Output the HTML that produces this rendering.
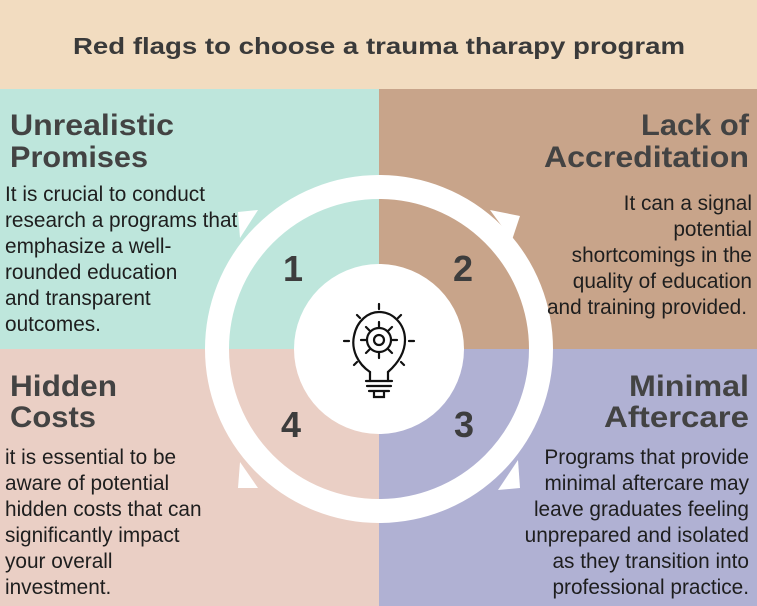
<!DOCTYPE html>
<html><head><meta charset="utf-8"><style>
html,body{margin:0;padding:0;width:757px;height:606px;overflow:hidden;background:#fff}
svg{display:block}
.t{font-family:"Liberation Sans",sans-serif;font-weight:bold;font-size:30px;fill:#434343}
.b{font-family:"Liberation Sans",sans-serif;font-size:20.8px;fill:#1e1e1e}
.n{font-family:"Liberation Sans",sans-serif;font-weight:bold;font-size:36px;fill:#3d3d3d}
</style></head><body>
<svg width="757" height="606" viewBox="0 0 757 606">
<rect x="0" y="0" width="757" height="89" fill="#f2dcc0"/>
<rect x="0" y="89" width="379" height="260" fill="#bee6dc"/>
<rect x="379" y="89" width="378" height="260" fill="#c8a48a"/>
<rect x="0" y="349" width="379" height="257" fill="#eacfc5"/>
<rect x="379" y="349" width="378" height="257" fill="#b0b1d3"/>
<text x="379" y="54" text-anchor="middle" font-family="Liberation Sans,sans-serif" font-weight="bold" font-size="23" fill="#3a3a3a" textLength="612" lengthAdjust="spacingAndGlyphs">Red flags to choose a trauma tharapy program</text>

<!-- ring -->
<circle cx="379" cy="349" r="162" fill="none" stroke="#fff" stroke-width="24"/>
<g fill="#fff">
<polygon points="240,238 258,210 238,212"/>
<polygon points="490,210 520,216 512,240"/>
<polygon points="518,460 520,488 498,490"/>
<polygon points="258,488 238,488 240,462"/>
</g>
<circle cx="379" cy="349" r="85" fill="#fff"/>

<!-- bulb icon -->
<g fill="none" stroke="#111" stroke-width="2.2" stroke-linecap="round">
<path d="M370,372 C358,364 351,350 354,336 C357,320 369,312 379,312 C393,312 405,324 405,340 C405,353 397,364 388,372"/>
<path d="M370,372 L370,381 M388,372 L388,381"/>
<path d="M366,381 L392,381 M367,386 L391,386 M369,391 L389,391"/>
<path d="M374,392 L374,397 L384,397 L384,392"/>
<circle cx="379" cy="340" r="5"/>
<path d="M379,322 L379,327 M379,353 L379,358 M361,340 L366,340 M392,340 L397,340 M366,327 L370,331 M392,327 L388,331 M366,353 L370,349 M392,353 L388,349"/>
<circle cx="379" cy="340" r="12"/>
<path d="M379,304 L379,309 M357,315 L360,318 M401,315 L398,318 M344,341 L349,341 M409,341 L414,341 M354,365 L357,362 M404,365 L401,362"/>
</g>

<text class="n" x="293" y="281" text-anchor="middle">1</text>
<text class="n" x="463" y="281" text-anchor="middle">2</text>
<text class="n" x="464" y="437" text-anchor="middle">3</text>
<text class="n" x="291" y="437" text-anchor="middle">4</text>

<text class="t" x="10" y="135" textLength="164" lengthAdjust="spacingAndGlyphs">Unrealistic</text>
<text class="t" x="10" y="167" textLength="138" lengthAdjust="spacingAndGlyphs">Promises</text>
<g class="b">
<text x="5" y="201">It is crucial to conduct</text>
<text x="5" y="227">research a programs that</text>
<text x="5" y="253">emphasize a well-</text>
<text x="5" y="279">rounded education</text>
<text x="5" y="305">and transparent</text>
<text x="5" y="331">outcomes.</text>
</g>

<g text-anchor="end">
<text class="t" x="749" y="135" textLength="108" lengthAdjust="spacingAndGlyphs">Lack of</text>
<text class="t" x="749" y="167" textLength="205" lengthAdjust="spacingAndGlyphs">Accreditation</text>
<g class="b">
<text x="752" y="210">It can a signal</text>
<text x="752" y="236">potential</text>
<text x="752" y="262">shortcomings in the</text>
<text x="752" y="288">quality of education</text>
<text x="747" y="314">and training provided.</text>
</g>
<text class="t" x="749" y="396" textLength="120" lengthAdjust="spacingAndGlyphs">Minimal</text>
<text class="t" x="749" y="427" textLength="145" lengthAdjust="spacingAndGlyphs">Aftercare</text>
<g class="b">
<text x="749" y="464">Programs that provide</text>
<text x="749" y="490">minimal aftercare may</text>
<text x="749" y="516">leave graduates feeling</text>
<text x="749" y="542">unprepared and isolated</text>
<text x="749" y="568">as they transition into</text>
<text x="749" y="594">professional practice.</text>
</g>
</g>

<text class="t" x="10" y="396" textLength="107" lengthAdjust="spacingAndGlyphs">Hidden</text>
<text class="t" x="10" y="427" textLength="86" lengthAdjust="spacingAndGlyphs">Costs</text>
<g class="b">
<text x="5" y="464">it is essential to be</text>
<text x="5" y="490">aware of potential</text>
<text x="5" y="516">hidden costs that can</text>
<text x="5" y="542">significantly impact</text>
<text x="5" y="568">your overall</text>
<text x="5" y="594">investment.</text>
</g>
</svg>
</body></html>
